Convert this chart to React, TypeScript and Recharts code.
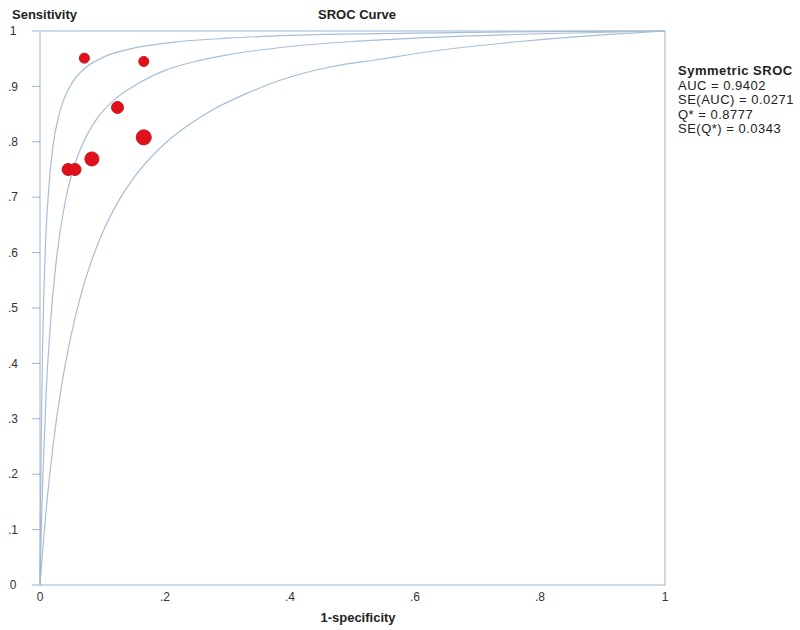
import { ComposedChart, Line, Scatter, XAxis, YAxis, ZAxis, ReferenceLine } from "recharts";

// curves: upper bound, SROC, lower bound
const innerCurve = [
  { x: 0, y: 0 }, { x: 0.001, y: 0.15 }, { x: 0.002, y: 0.26 }, { x: 0.004, y: 0.42 },
  { x: 0.006, y: 0.52 }, { x: 0.009, y: 0.62 }, { x: 0.013, y: 0.7 }, { x: 0.017, y: 0.755 },
  { x: 0.021, y: 0.795 }, { x: 0.03, y: 0.847 }, { x: 0.048, y: 0.9 }, { x: 0.07, y: 0.931 },
  { x: 0.1, y: 0.952 }, { x: 0.15, y: 0.969 }, { x: 0.224, y: 0.981 }, { x: 0.3, y: 0.987 },
  { x: 0.4, y: 0.992 }, { x: 0.6, y: 0.996 }, { x: 0.8, y: 0.999 }, { x: 1, y: 1 },
];
const midCurve = [
  { x: 0, y: 0 }, { x: 0.002, y: 0.1 }, { x: 0.005, y: 0.21 }, { x: 0.01, y: 0.35 },
  { x: 0.018, y: 0.49 }, { x: 0.026, y: 0.585 }, { x: 0.04, y: 0.69 }, { x: 0.053, y: 0.75 },
  { x: 0.067, y: 0.793 }, { x: 0.09, y: 0.84 }, { x: 0.12, y: 0.877 }, { x: 0.149, y: 0.9 },
  { x: 0.2, y: 0.929 }, { x: 0.256, y: 0.947 }, { x: 0.3, y: 0.957 }, { x: 0.4, y: 0.972 },
  { x: 0.5, y: 0.981 }, { x: 0.6, y: 0.987 }, { x: 0.8, y: 0.995 }, { x: 1, y: 1 },
];
const outerCurve = [
  { x: 0, y: 0 }, { x: 0.005, y: 0.073 }, { x: 0.01, y: 0.137 }, { x: 0.02, y: 0.243 },
  { x: 0.035, y: 0.363 }, { x: 0.05, y: 0.452 }, { x: 0.065, y: 0.522 }, { x: 0.08, y: 0.577 },
  { x: 0.1, y: 0.636 }, { x: 0.125, y: 0.692 }, { x: 0.15, y: 0.735 }, { x: 0.175, y: 0.769 },
  { x: 0.203, y: 0.8 }, { x: 0.24, y: 0.832 }, { x: 0.28, y: 0.86 }, { x: 0.33, y: 0.887 },
  { x: 0.384, y: 0.911 }, { x: 0.464, y: 0.935 }, { x: 0.544, y: 0.949 }, { x: 0.624, y: 0.963 },
  { x: 0.768, y: 0.981 }, { x: 0.9, y: 0.993 }, { x: 1, y: 1 },
];

// studies: 1-specificity, sensitivity, weight
const studies = [
  { x: 0.071, y: 0.951, w: 25 },
  { x: 0.166, y: 0.945, w: 25 },
  { x: 0.124, y: 0.862, w: 36 },
  { x: 0.166, y: 0.808, w: 56 },
  { x: 0.083, y: 0.769, w: 49 },
  { x: 0.045, y: 0.75, w: 36 },
  { x: 0.056, y: 0.75, w: 36 },
];

const xTicks = [0, 0.2, 0.4, 0.6, 0.8, 1];
const yTicks = [0, 0.1, 0.2, 0.3, 0.4, 0.5, 0.6, 0.7, 0.8, 0.9, 1];

const statLines = ["AUC = 0.9402", "SE(AUC) = 0.0271", "Q* = 0.8777", "SE(Q*) = 0.0343"];

const font = '"Liberation Sans", Arial, sans-serif';
const axisColor = "#9db4cb";
const curveColor = "#a7bed6";

const fmt = (v: number) => (v === 0 || v === 1 ? String(v) : String(v).replace(/^0/, ""));

export default function App() {
  const tick = { fontSize: 12, fill: "#333", fontFamily: font };
  return (
    <div style={{ position: "absolute", left: 0, top: 0, width: 800, height: 630, background: "#fff", fontFamily: font, color: "#222" }}>
      <ComposedChart width={800} height={630} margin={{ top: 31, right: 135, bottom: 0, left: 0 }}>
        <XAxis
          type="number"
          dataKey="x"
          domain={[0, 1]}
          ticks={xTicks}
          tickFormatter={fmt}
          tickSize={0}
          tickMargin={7}
          height={45}
          stroke={axisColor}
          tick={tick}
        />
        <YAxis
          type="number"
          dataKey="y"
          domain={[0, 1]}
          ticks={yTicks}
          tickFormatter={fmt}
          tickSize={8}
          tickMargin={19}
          width={40}
          stroke={axisColor}
          tick={{ ...tick, textAnchor: "middle" }}
        />
        <ZAxis type="number" dataKey="w" domain={[0, 56]} range={[0, 177]} />
        <ReferenceLine y={1} stroke={axisColor} ifOverflow="extendDomain" />
        <ReferenceLine x={1} stroke={axisColor} ifOverflow="extendDomain" />
        <Line data={innerCurve} dataKey="y" type="monotone" stroke={curveColor} strokeWidth={1.2} dot={false} isAnimationActive={false} />
        <Line data={midCurve} dataKey="y" type="monotone" stroke={curveColor} strokeWidth={1.2} dot={false} isAnimationActive={false} />
        <Line data={outerCurve} dataKey="y" type="monotone" stroke={curveColor} strokeWidth={1.2} dot={false} isAnimationActive={false} />
        <Scatter data={studies} dataKey="y" fill="#e2101b" stroke="#c4161f" strokeWidth={1} isAnimationActive={false} />
      </ComposedChart>
      <div style={{ position: "absolute", left: 12, top: 7, fontSize: 13, fontWeight: "bold" }}>Sensitivity</div>
      <div style={{ position: "absolute", left: 357, top: 7, fontSize: 13, fontWeight: "bold", transform: "translateX(-50%)" }}>SROC Curve</div>
      <div style={{ position: "absolute", left: 358, top: 610, fontSize: 13, fontWeight: "bold", transform: "translateX(-50%)" }}>1-specificity</div>
      <div style={{ position: "absolute", left: 678, top: 64, fontSize: 13, lineHeight: "14.5px", letterSpacing: 0.5 }}>
        <div style={{ fontWeight: "bold" }}>Symmetric SROC</div>
        {statLines.map((s) => (
          <div key={s}>{s}</div>
        ))}
      </div>
    </div>
  );
}
